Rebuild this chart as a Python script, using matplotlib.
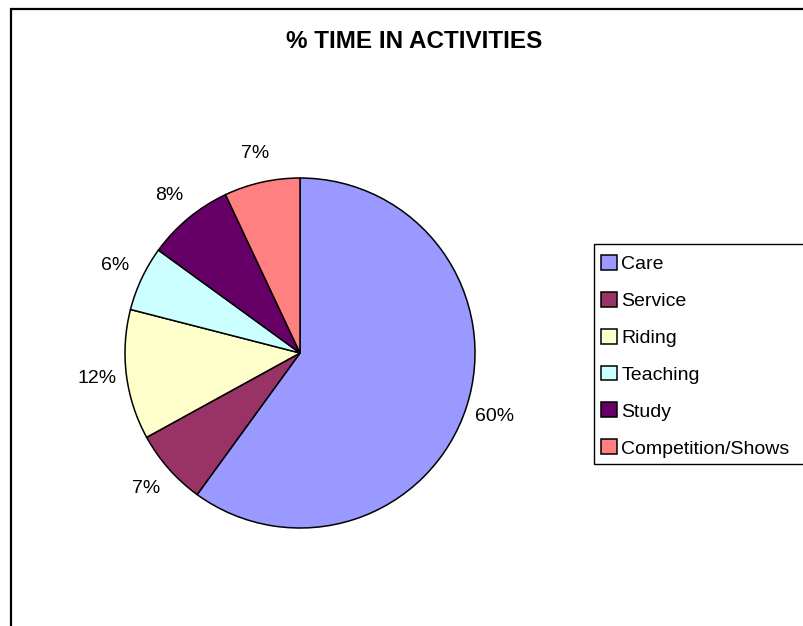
import matplotlib.pyplot as plt
import matplotlib.patches as patches

plt.rcParams['font.family'] = ['Liberation Sans', 'DejaVu Sans']

activities = ['Care', 'Service', 'Riding', 'Teaching', 'Study', 'Competition/Shows']
shares = [60, 7, 12, 6, 8, 7]
colours = ['#9999FF', '#993366', '#FFFFCC', '#CCFFFF', '#660066', '#FF8080']

W, H = 804, 626
fig = plt.figure(figsize=(W / 100, H / 100), dpi=100)
ax = fig.add_axes([0, 0, 1, 1])
ax.axis('off')

# chart area border (runs off the right and bottom edge)
fig.patches.append(patches.Rectangle((11 / W, -0.1), 1.2, (H - 9) / H + 0.1,
                                     transform=fig.transFigure, fill=False,
                                     edgecolor='black', linewidth=1.6))

wedges, _, pct = ax.pie(shares, colors=colours, startangle=90, counterclock=False,
                        center=(300, H - 353), radius=175,
                        autopct='%1.0f%%', pctdistance=1.17,
                        wedgeprops=dict(edgecolor='black', linewidth=1.1),
                        textprops=dict(fontsize=14))
ax.set_xlim(0, W)
ax.set_ylim(0, H)
ax.set_aspect('equal')

fig.text(414 / W, 1 - 41 / H, '% TIME IN ACTIVITIES', ha='center', va='center',
         fontsize=17.5, fontweight='bold')

# legend box, also running off the right edge
fig.patches.append(patches.Rectangle((594 / W, 1 - 464 / H), 0.5, 220 / H,
                                     transform=fig.transFigure, fill=False,
                                     edgecolor='black', linewidth=1.0))
leg = fig.legend(wedges, activities, loc='upper left',
                 bbox_to_anchor=(601 / W, 1 - 255 / H),
                 frameon=False, fontsize=14,
                 handlelength=0.8, handleheight=0.8, handletextpad=0.25,
                 labelspacing=0.96, borderaxespad=0, borderpad=0)

fig.savefig('out.png', dpi=100)
